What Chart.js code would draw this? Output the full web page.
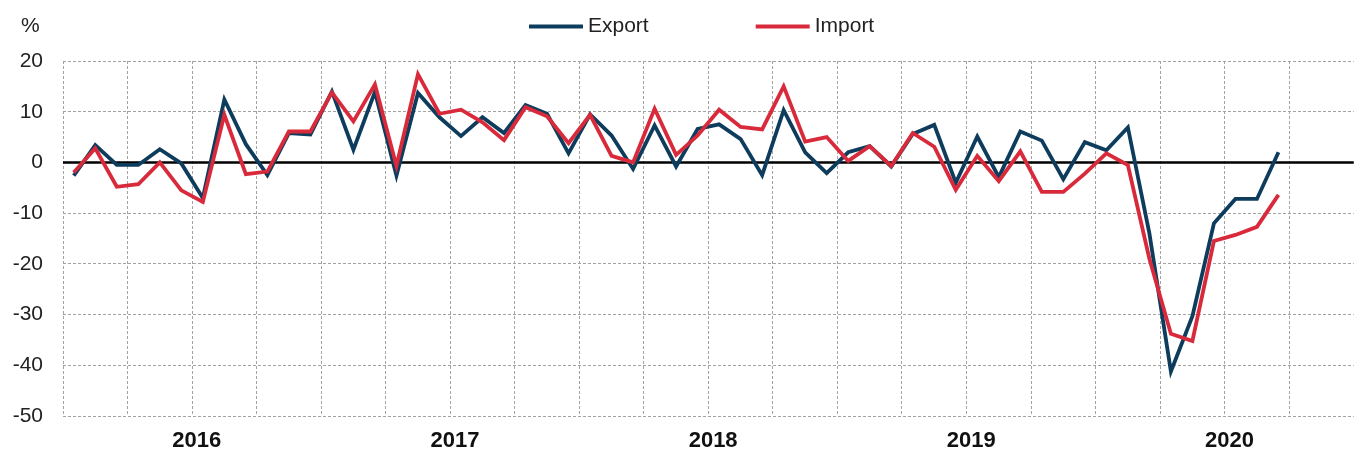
<!DOCTYPE html>
<html>
<head>
  <title>Export / Import</title>
  <script src="https://cdn.jsdelivr.net/npm/chart.js"></script>
  <style>
    body { margin: 0; background: #fff; }
    .wrap { position: relative; width: 1355px; height: 452px; }
  </style>
</head>
<body>
  <div class="wrap"><canvas id="tradeChart"></canvas></div>
  <script>
    const years = ['2016', '2017', '2018', '2019', '2020'];
    const monthNames = ['Jan', 'Feb', 'Mar', 'Apr', 'May', 'Jun', 'Jul', 'Aug', 'Sep', 'Oct', 'Nov', 'Dec'];
    const months = years.flatMap(y => monthNames.map(m => m + ' ' + y));

    // monthly change, % (Jan 2016 - Sep 2020)
    const exportData = [
      -2.6, 3.4, -0.5, -0.5, 2.6, -0.2, -7.0, 12.4, 3.6, -2.5, 5.8, 5.5,
      14.0, 2.5, 13.9, -2.6, 13.7, 8.9, 5.2, 8.9, 5.8, 11.3, 9.6, 1.8,
      9.5, 5.3, -1.3, 7.3, -0.8, 6.6, 7.5, 4.6, -2.5, 10.3, 2.0, -2.1,
      2.0, 3.2, -0.8, 5.6, 7.4, -4.0, 5.1, -2.9, 6.1, 4.3, -3.3, 4.0,
      2.4, 6.9, -14.0, -41.2, -30.3, -12.0, -7.2, -7.2, 2.0
    ];
    const importData = [
      -2.0, 2.8, -4.8, -4.3, 0.0, -5.5, -7.8, 9.4, -2.3, -1.8, 6.1, 6.1,
      13.8, 8.1, 15.4, -0.7, 17.4, 9.6, 10.4, 7.9, 4.4, 10.9, 9.1, 3.8,
      9.4, 1.3, 0.0, 10.6, 1.5, 5.3, 10.4, 7.0, 6.5, 15.0, 4.1, 5.0,
      0.3, 3.2, -0.7, 5.8, 3.1, -5.4, 1.3, -3.7, 2.2, -5.8, -5.8, -2.2,
      1.8, -0.5, -19.0, -33.8, -35.2, -15.5, -14.3, -12.7, -6.4
    ];

    const yMin = -50, yMax = 20, yStep = 10;
    const gridColor = '#a3a3a3';
    const textFont = '"Liberation Sans", Arial, sans-serif';

    // zero line under the series, unit label and line legend on top
    const decor = {
      id: 'decor',
      beforeDatasetsDraw(chart) {
        const { ctx, chartArea, scales } = chart;
        const y0 = scales.y.getPixelForValue(0);
        ctx.save();
        ctx.strokeStyle = '#000';
        ctx.lineWidth = 2.5;
        ctx.beginPath();
        ctx.moveTo(chartArea.left, y0);
        ctx.lineTo(chartArea.right, y0);
        ctx.stroke();
        ctx.restore();
      },
      afterDraw(chart) {
        const ctx = chart.ctx;
        ctx.save();
        ctx.font = '21px ' + textFont;
        ctx.fillStyle = '#222';
        ctx.textBaseline = 'middle';
        ctx.fillText('%', 21, 26.5);
        let x = 529;
        chart.data.datasets.forEach(ds => {
          ctx.strokeStyle = ds.borderColor;
          ctx.lineWidth = 3.8;
          ctx.beginPath();
          ctx.moveTo(x, 26.5);
          ctx.lineTo(x + 54, 26.5);
          ctx.stroke();
          ctx.fillText(ds.label, x + 59, 26.5);
          x += 59 + ctx.measureText(ds.label).width + 107;
        });
        ctx.restore();
      }
    };

    const ctx = document.getElementById('tradeChart').getContext('2d');
    new Chart(ctx, {
      type: 'line',
      data: {
        labels: months,
        datasets: [
          { label: 'Export', data: exportData, borderColor: '#0e3c5d', borderWidth: 3.8, order: 1 },
          { label: 'Import', data: importData, borderColor: '#d82a3b', borderWidth: 3.8, order: 0 }
        ]
      },
      options: {
        responsive: true,
        maintainAspectRatio: false,
        animation: false,
        layout: { padding: { top: 61, left: 0, right: 0, bottom: 0 } },
        elements: {
          point: { radius: 0 },
          line: { tension: 0, borderJoinStyle: 'miter' }
        },
        plugins: {
          legend: { display: false },
          tooltip: { enabled: false }
        },
        scales: {
          x: {
            offset: true,
            grid: {
              offset: true,
              drawTicks: false,
              lineWidth: 1,
              color: c => (c.index % 3 === 0 ? gridColor : 'transparent')
            },
            border: { display: false, dash: [3, 2] },
            ticks: {
              autoSkip: false,
              maxRotation: 0,
              padding: 12,
              labelOffset: -6,
              color: '#111',
              font: { family: textFont, size: 22, weight: 'bold' },
              callback: (v, i) => (i % 12 === 6 ? years[Math.floor(i / 12)] : '')
            },
            afterFit: s => { s.height = 36; }
          },
          y: {
            min: yMin,
            max: yMax,
            grid: { drawTicks: false, color: gridColor, lineWidth: 1 },
            border: { display: false, dash: [3, 2] },
            ticks: {
              stepSize: yStep,
              padding: 20,
              color: '#222',
              font: { family: textFont, size: 21 }
            },
            afterFit: s => { s.width = 63; }
          }
        }
      },
      plugins: [decor]
    });
  </script>
</body>
</html>
